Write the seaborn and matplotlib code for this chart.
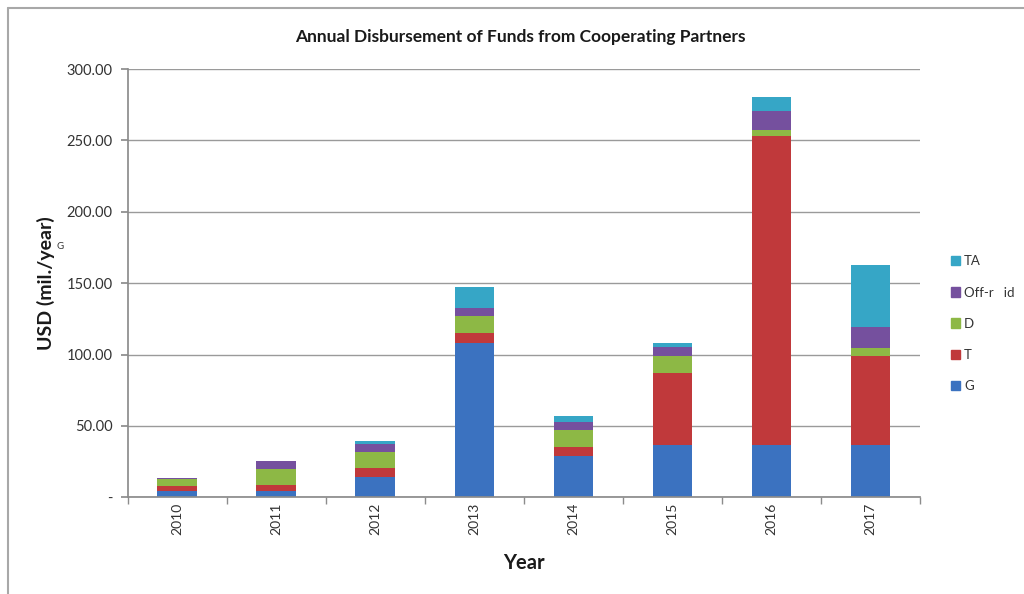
import matplotlib
matplotlib.use("Agg")
import matplotlib.pyplot as plt
import matplotlib.patches as mpatches
from matplotlib.ticker import FuncFormatter, FixedLocator
import numpy as np
import pandas as pd
import seaborn as sns

# Annual disbursement by funding type (USD million per year)
years = ["2010", "2011", "2012", "2013", "2014", "2015", "2016", "2017"]
g_vals = [4.6, 4.6, 14.0, 108.4, 29.0, 36.7, 36.7, 36.7]
t_vals = [3.3, 3.8, 6.3, 6.6, 6.5, 50.2, 216.5, 62.5]
d_vals = [4.7, 11.4, 11.7, 12.1, 11.7, 12.0, 4.2, 5.2]
offgrid_vals = [0.8, 5.6, 5.4, 5.4, 5.8, 6.6, 12.9, 14.8]
ta_vals = [0.3, 0.0, 2.1, 14.7, 4.0, 2.4, 10.1, 43.6]

series_names = ["G", "T", "D", "Off-r   id", "TA"]
series_vals = [g_vals, t_vals, d_vals, offgrid_vals, ta_vals]
series_colors = ["#3b72c0", "#c0393b", "#8db845", "#75509e", "#36a6c6"]

y_ticks = [0, 50, 100, 150, 200, 250, 300]

sns.set_theme(style="white")
plt.rcParams["font.family"] = ["Lato", "DejaVu Sans"]

fig = plt.figure(figsize=(10.24, 5.94), dpi=100)
ax = fig.add_axes([0.1247, 0.1628, 0.7737, 0.7210])

df = pd.DataFrame({"Year": years})
bottom = np.zeros(len(years))
for name, vals, col in zip(series_names, series_vals, series_colors):
    df[name] = vals
    sns.barplot(data=df, x="Year", y=name, color=col, width=0.4,
                bottom=bottom, ax=ax, saturation=1, edgecolor="none",
                linewidth=0)
    bottom = bottom + np.array(vals)

ax.set_ylim(0, 300)
ax.set_xlim(-0.5, len(years) - 0.5)
ax.set_yticks(y_ticks)
ax.yaxis.set_major_formatter(FuncFormatter(lambda v, p: "-" if v == 0 else f"{v:.2f}"))
ax.grid(axis="y", color="#9a9a9a", linewidth=1.0)
ax.set_axisbelow(True)

for s in ["top", "right"]:
    ax.spines[s].set_visible(False)
ax.spines["left"].set_color("#8c8c8c")
ax.spines["bottom"].set_color("#8c8c8c")

# tick marks between categories on the x axis
ax.xaxis.set_minor_locator(FixedLocator(np.arange(-0.5, len(years), 1.0)))
ax.tick_params(axis="x", which="major", length=0, labelrotation=90,
               labelsize=10, labelcolor="#333333", pad=4)
ax.tick_params(axis="x", which="minor", length=5, color="#8c8c8c",
               direction="out", bottom=True)
ax.tick_params(axis="y", length=5, color="#8c8c8c", direction="out", left=True,
               labelsize=10.5, labelcolor="#333333", pad=6)

ax.set_xlabel("Year", fontsize=14.5, fontweight="bold", color="#1a1a1a", labelpad=13)
ax.set_ylabel("USD (mil./year)", fontsize=14, fontweight="bold", color="#1a1a1a",
              labelpad=8)
fig.text(0.059, 0.585, "G", fontsize=7, color="#333333", ha="center", va="center")

fig.text(0.508, 0.938, "Annual Disbursement of Funds from Cooperating Partners",
         fontsize=12.5, fontweight="bold", color="#1a1a1a", ha="center", va="center")

handles = [mpatches.Patch(color=c, label=n)
           for n, c in zip(series_names, series_colors)][::-1]
fig.legend(handles=handles, loc="upper left", bbox_to_anchor=(0.917, 0.59),
           frameon=False, fontsize=9.5, handlelength=0.7, handleheight=0.7,
           handletextpad=0.3, labelspacing=1.45, labelcolor="#333333")

# outer chart frame
fig.add_artist(plt.Line2D([0.008, 1.0], [0.986, 0.986], transform=fig.transFigure,
                          color="#a8a8a8", linewidth=1.5))
fig.add_artist(plt.Line2D([0.008, 0.008], [0.0, 0.986], transform=fig.transFigure,
                          color="#a8a8a8", linewidth=1.5))

fig.savefig("out.png", dpi=100)
